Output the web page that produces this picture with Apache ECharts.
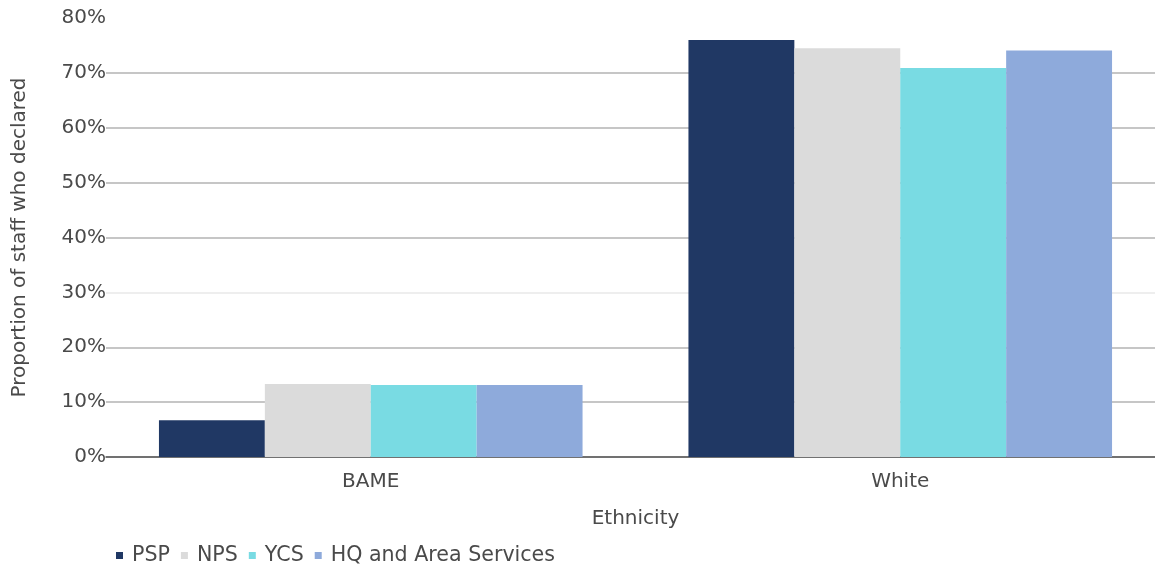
<!DOCTYPE html>
<html><head><meta charset="utf-8">
<script src="https://cdn.jsdelivr.net/npm/echarts@6/dist/echarts.min.js"></script>
<style>html,body{margin:0;padding:0;background:#fff}#c{width:1155px;height:566px}</style>
</head><body><div id="c"></div>
<script>
const categories = ['BAME', 'White'];
const seriesNames = ['PSP', 'NPS', 'YCS', 'HQ and Area Services'];
const psp = [6.7, 76.0];
const nps = [13.3, 74.5];
const ycs = [13.1, 70.9];
const hq = [13.1, 74.1];
const colors = ['#203864', '#dbdbdb', '#79dbe3', '#8eaadb'];
const values = [psp, nps, ycs, hq];

const chart = echarts.init(document.getElementById('c'));
const txt = '#4a4a4a';
const font = 'DejaVu Sans';
chart.setOption({
  animation: false,
  grid: {left: 106, right: -10, top: 18, bottom: 109, containLabel: false, outerBoundsMode: 'none'},
  legend: {
    left: 111, top: 540, itemWidth: 7, itemHeight: 7, itemGap: 11, icon: 'rect',
    textStyle: {color: txt, fontSize: 20.6, fontFamily: font, padding: [0,0,0,4]},
    data: seriesNames
  },
  xAxis: {
    type: 'category', data: categories,
    name: 'Ethnicity', nameLocation: 'middle', nameGap: 52,
    nameTextStyle: {color: txt, fontSize: 20, fontFamily: font},
    axisLine: {lineStyle: {color: '#555', width: 1.5}},
    axisTick: {alignWithLabel: true, length: 6, lineStyle: {color: '#ccc', width: 1.5}},
    axisLabel: {color: txt, fontSize: 20, fontFamily: font, margin: 15}
  },
  yAxis: {
    type: 'value', min: 0, max: 80, interval: 10,
    name: 'Proportion of staff who declared', nameLocation: 'middle', nameGap: 76,
    nameTextStyle: {color: txt, fontSize: 20, fontFamily: font},
    axisLabel: {color: txt, fontSize: 20, fontFamily: font, margin: 0, padding: [3, 0, 0, 0], formatter: '{value}%'},
    axisLine: {show: false}, axisTick: {show: false},
    splitLine: {lineStyle: {width: 1.5, color: ['#b3b3b3','#b3b3b3','#b3b3b3','#e8e8e8','#b3b3b3','#b3b3b3','#b3b3b3','#b3b3b3','rgba(0,0,0,0)']}}
  },
  series: values.map((v, i) => ({
    type: 'bar', name: seriesNames[i], data: v,
    barGap: '0%', barCategoryGap: '20%',
    itemStyle: {color: colors[i]}
  }))
});
</script></body></html>
